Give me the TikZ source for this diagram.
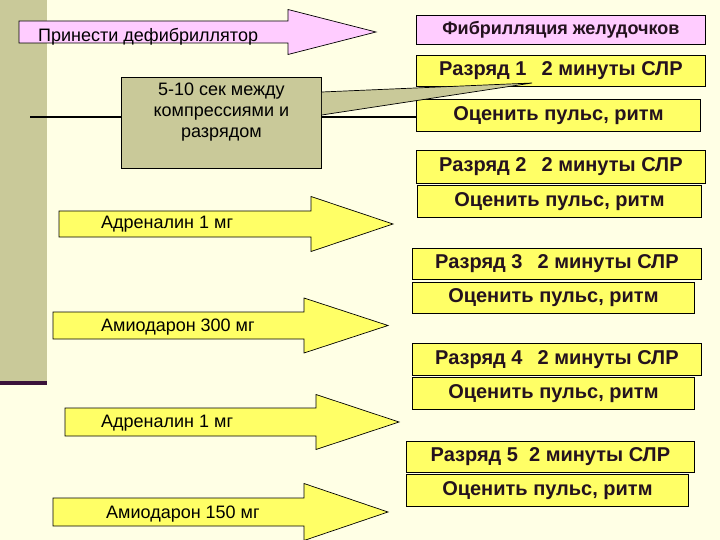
\documentclass[tikz,border=0pt]{standalone}
\usepackage{fontspec}
\setmainfont{Liberation Sans}
\usetikzlibrary{positioning}
\definecolor{slidebg}{RGB}{255,255,229}
\definecolor{olivegray}{RGB}{201,201,153}
\definecolor{stripline}{RGB}{58,18,58}
\definecolor{boxyellow}{RGB}{255,255,102}
\definecolor{boxpink}{RGB}{255,204,255}
\definecolor{darktext}{RGB}{36,18,30}
\tikzset{
  every picture/.append style={line join=miter},
  shock box/.style={draw=black,line width=0.8pt,fill=boxyellow,inner sep=0pt,anchor=north west,
    font=\fontsize{20}{23}\selectfont\bfseries,text=darktext},
  rhythm box/.style={shock box,fill=boxpink,font=\fontsize{18}{21}\selectfont\bfseries},
  pause box/.style={draw=black,line width=0.8pt,fill=olivegray,inner sep=0pt,anchor=north west},
  pause text/.style={align=center,font=\fontsize{18}{21}\selectfont,inner sep=0pt,anchor=north},
  pink arrow/.style={draw=black,line width=0.7pt,fill=boxpink},
  dose arrow/.style={draw=black,line width=0.7pt,fill=boxyellow},
  dose label/.style={anchor=base west,inner sep=0pt,font=\fontsize{18}{21}\selectfont,text=black},
  pointer/.style={draw=black,line width=0.7pt,fill=olivegray},
  timeline/.style={line width=1.4pt,black}
}
% arrow: [style] x-left, x-neck, x-tip, y-centre, body half, head half
\newcommand{\flowarrow}[7][]{%
  \draw[#1] (#2,{#5-#6}) -- (#3,{#5-#6}) -- (#3,{#5-#7}) -- (#4,#5)
    -- (#3,{#5+#7}) -- (#3,{#5+#6}) -- (#2,{#5+#6}) -- cycle;}

\begin{document}
\begin{tikzpicture}[x=1pt,y=-1pt]
\useasboundingbox (0,0) rectangle (720,540);
\fill[slidebg] (0,0) rectangle (720,540);
% left strip
\fill[olivegray] (0,0) rectangle (47,381);
\fill[stripline] (0,381) rectangle (47,385);

% right column
\node[rhythm box,minimum width=289pt,minimum height=29pt] (vf) at (416,15) {Фибрилляция желудочков};
\node[shock box,minimum width=289pt,minimum height=31pt] (shock1) at (416,55) {Разряд 1\hspace{15pt}2 минуты СЛР};
\node[shock box,minimum width=284pt,minimum height=32pt] (check1) at (416,99) {Оценить пульс, ритм};
\node[shock box,minimum width=289pt,minimum height=33pt] (shock2) at (416,150) {Разряд 2\hspace{15pt}2 минуты СЛР};
\node[shock box,minimum width=284pt,minimum height=32pt] (check2) at (417,185) {Оценить пульс, ритм};
\node[shock box,minimum width=289pt,minimum height=31pt] (shock3) at (412,248) {Разряд 3\hspace{15pt}2 минуты СЛР};
\node[shock box,minimum width=282pt,minimum height=31pt] (check3) at (412,282) {Оценить пульс, ритм};
\node[shock box,minimum width=289pt,minimum height=32pt] (shock4) at (412,343) {Разряд 4\hspace{15pt}2 минуты СЛР};
\node[shock box,minimum width=282pt,minimum height=32pt] (check4) at (412,377) {Оценить пульс, ритм};
\node[shock box,minimum width=288pt,minimum height=31pt] (shock5) at (406,441) {Разряд 5\hspace{11pt}2 минуты СЛР};
\node[shock box,minimum width=282pt,minimum height=32pt] (check5) at (406,474) {Оценить пульс, ритм};

% pause callout
\coordinate (lineL) at (30,117);
\draw[timeline] (lineL) -- (lineL -| check1.west);
\node[pause box,minimum width=200pt,minimum height=91pt] (pause) at (121,77) {};
\node[pause text,below=6pt of pause.north] (pausetxt) {5-10 сек между\\компрессиями и\\разрядом};
\coordinate (tip) at (532,83);
\filldraw[pointer] ([yshift=-15pt]pause.north east) -- (tip) -- ([yshift=-38pt]pause.north east);

% arrows on the left
\flowarrow[pink arrow]{19}{288}{376}{32}{11}{22.5}
\node[dose label] (defib) at (38,41.5) {Принести дефибриллятор};
\flowarrow[dose arrow]{59}{311}{393}{224}{13}{27.5}
\node[dose label] (adr1) at (101,229) {Адреналин 1 мг};
\flowarrow[dose arrow]{53}{304}{388}{325.5}{13.5}{27.5}
\node[dose label] (amio300) at (101,331) {Амиодарон 300 мг};
\flowarrow[dose arrow]{65}{316}{399}{422}{14}{27.5}
\node[dose label] (adr2) at (101,427.5) {Адреналин 1 мг};
\flowarrow[dose arrow]{53}{304}{388}{512}{14}{28.5}
\node[dose label] (amio150) at (106,518) {Амиодарон 150 мг};
\end{tikzpicture}
\end{document}
